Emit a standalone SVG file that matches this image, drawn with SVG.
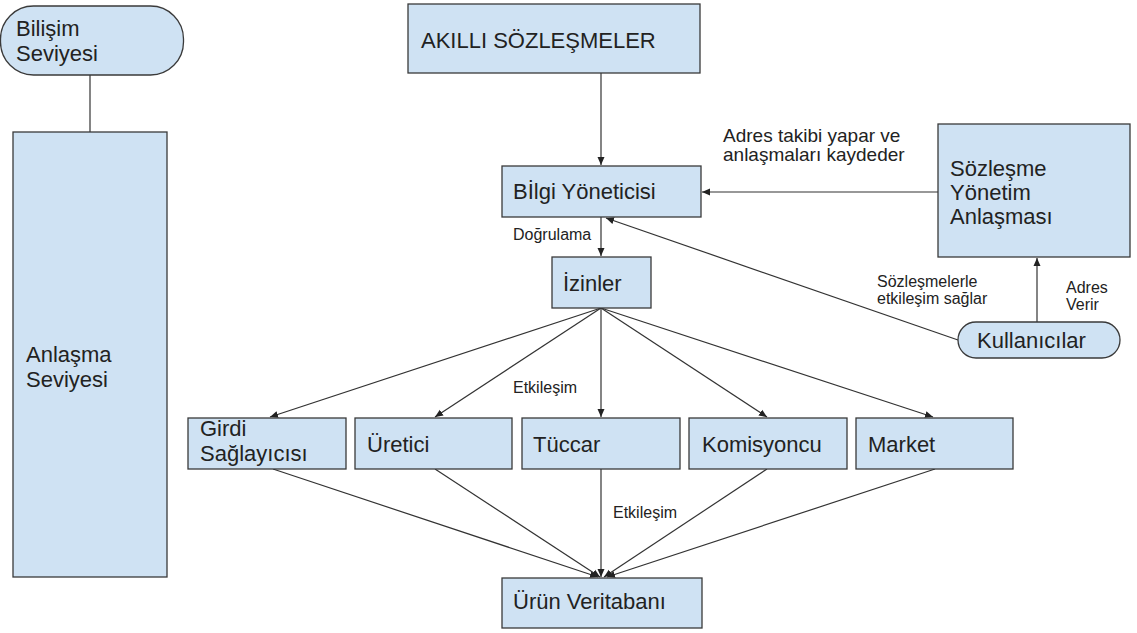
<svg xmlns="http://www.w3.org/2000/svg" width="1137" height="633" viewBox="0 0 1137 633">
  <style>
    .box { fill: #cfe2f3; stroke: #3a3a3a; stroke-width: 1.3; }
    .lbl { font-family: "Liberation Sans", Arial, sans-serif; font-size: 22px; fill: #222; }
    .mid { font-family: "Liberation Sans", Arial, sans-serif; font-size: 19px; fill: #222; }
    .sm { font-family: "Liberation Sans", Arial, sans-serif; font-size: 16px; fill: #222; }
    .edge { stroke: #333; stroke-width: 1.2; fill: none; }
    .arr { marker-end: url(#head); }
  </style>
  <defs>
    <marker id="head" markerUnits="userSpaceOnUse" markerWidth="9" markerHeight="8" refX="8" refY="4" orient="auto">
      <path d="M0,0.5 L8,4 L0,7.5 Z" fill="#222"/>
    </marker>
  </defs>
  <rect width="1137" height="633" fill="#ffffff"/>

  <!-- connectors -->
  <g id="connectors">
    <line class="edge" x1="90" y1="75" x2="90" y2="132"/>
    <line class="edge arr" x1="601" y1="73" x2="601" y2="165"/>
    <line class="edge arr" x1="938" y1="192" x2="702" y2="192"/>
    <line class="edge arr" x1="601" y1="217" x2="601" y2="256"/>
    <line class="edge arr" x1="958" y1="340" x2="606" y2="218"/>
    <line class="edge arr" x1="1037" y1="322" x2="1037" y2="258"/>
    <line class="edge arr" x1="601" y1="308" x2="270" y2="417"/>
    <line class="edge arr" x1="601" y1="308" x2="435" y2="417"/>
    <line class="edge arr" x1="601" y1="308" x2="601" y2="417"/>
    <line class="edge arr" x1="601" y1="308" x2="767" y2="417"/>
    <line class="edge arr" x1="601" y1="308" x2="933" y2="417"/>
    <line class="edge arr" x1="273" y1="469" x2="598" y2="577"/>
    <line class="edge arr" x1="435" y1="469" x2="600" y2="577"/>
    <line class="edge arr" x1="601" y1="469" x2="601" y2="577"/>
    <line class="edge arr" x1="767" y1="469" x2="604" y2="577"/>
    <line class="edge arr" x1="935" y1="469" x2="607" y2="577"/>
  </g>

  <!-- edge labels -->
  <g id="edge-labels">
    <text class="mid" x="723" y="142">Adres takibi yapar ve</text>
    <text class="mid" x="723" y="161">anlaşmaları kaydeder</text>
    <text class="sm" x="513" y="240">Doğrulama</text>
    <text class="sm" x="877" y="287">Sözleşmelerle</text>
    <text class="sm" x="877" y="304">etkileşim sağlar</text>
    <text class="sm" x="1066" y="293">Adres</text>
    <text class="sm" x="1066" y="310">Verir</text>
    <text class="sm" x="513" y="393">Etkileşim</text>
    <text class="sm" x="613" y="518">Etkileşim</text>
  </g>

  <g id="bilisim-seviyesi">
    <rect class="box" x="0.5" y="6" width="183" height="69" rx="33" ry="33"/>
    <text class="lbl" x="16" y="36">Bilişim</text>
    <text class="lbl" x="16" y="61">Seviyesi</text>
  </g>

  <g id="anlasma-seviyesi">
    <rect class="box" x="13" y="132" width="154" height="445"/>
    <text class="lbl" x="26" y="362">Anlaşma</text>
    <text class="lbl" x="26" y="387">Seviyesi</text>
  </g>

  <g id="akilli-sozlesmeler">
    <rect class="box" x="408" y="4" width="292" height="69"/>
    <text class="lbl" x="421" y="48">AKILLI SÖZLEŞMELER</text>
  </g>

  <g id="bilgi-yoneticisi">
    <rect class="box" x="502" y="166" width="199" height="51"/>
    <text class="lbl" x="513" y="199">Bİlgi Yöneticisi</text>
  </g>

  <g id="izinler">
    <rect class="box" x="552" y="257" width="99" height="51"/>
    <text class="lbl" x="563" y="291">İzinler</text>
  </g>

  <g id="sozlesme-yonetim">
    <rect class="box" x="938" y="124" width="192" height="133"/>
    <text class="lbl" x="950" y="176" font-size="20">Sözleşme</text>
    <text class="lbl" x="950" y="200" font-size="20">Yönetim</text>
    <text class="lbl" x="950" y="224" font-size="20">Anlaşması</text>
  </g>

  <g id="kullanicilar">
    <rect class="box" x="958" y="322" width="162" height="36" rx="18" ry="18"/>
    <text class="lbl" x="977" y="348">Kullanıcılar</text>
  </g>

  <g id="girdi-saglayicisi">
    <rect class="box" x="188" y="418" width="158" height="51"/>
    <text class="lbl" x="200" y="436">Girdi</text>
    <text class="lbl" x="200" y="461">Sağlayıcısı</text>
  </g>

  <g id="uretici">
    <rect class="box" x="355" y="418" width="157" height="51"/>
    <text class="lbl" x="367" y="452">Üretici</text>
  </g>

  <g id="tuccar">
    <rect class="box" x="522" y="418" width="158" height="51"/>
    <text class="lbl" x="533" y="452">Tüccar</text>
  </g>

  <g id="komisyoncu">
    <rect class="box" x="689" y="418" width="158" height="51"/>
    <text class="lbl" x="702" y="452">Komisyoncu</text>
  </g>

  <g id="market">
    <rect class="box" x="856" y="418" width="157" height="51"/>
    <text class="lbl" x="868" y="452">Market</text>
  </g>

  <g id="urun-veritabani">
    <rect class="box" x="502" y="578" width="200" height="50"/>
    <text class="lbl" x="513" y="609">Ürün Veritabanı</text>
  </g>
</svg>
